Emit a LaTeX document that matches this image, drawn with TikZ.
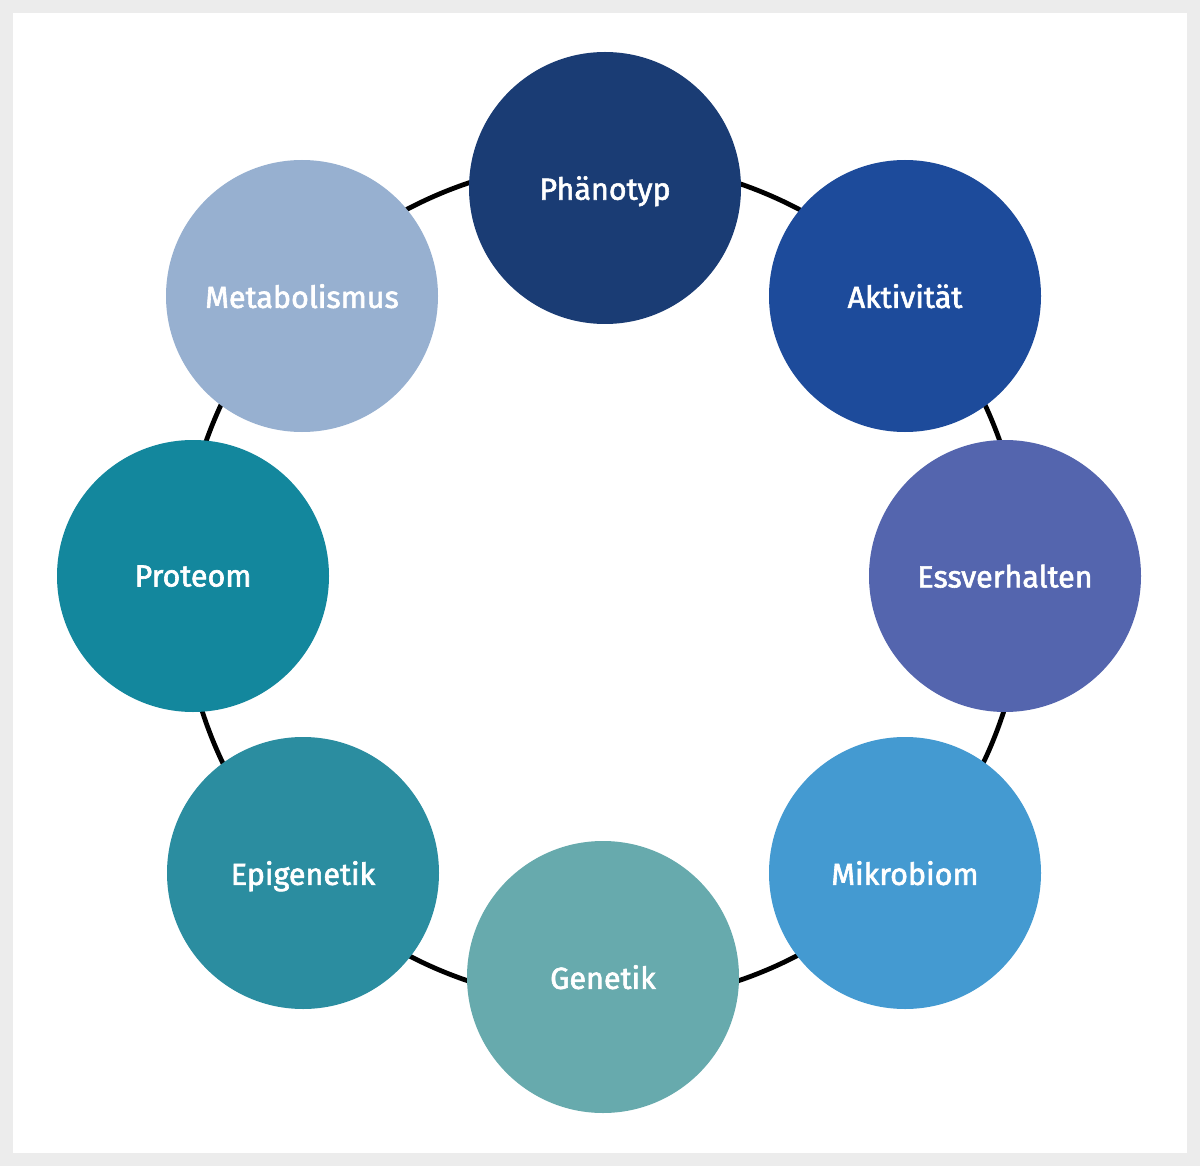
\documentclass[tikz,border=0pt]{standalone}
\usepackage{fontspec}
\setmainfont{Fira Sans}
\newfontfamily\labelfont[FakeBold=2]{Fira Sans}
\definecolor{frame}{HTML}{ECECEC}
\definecolor{cPheno}{HTML}{1A3C74}
\definecolor{cAkt}{HTML}{1D4B9B}
\definecolor{cEss}{HTML}{5465AE}
\definecolor{cMikro}{HTML}{449AD1}
\definecolor{cGen}{HTML}{67AAAD}
\definecolor{cEpi}{HTML}{2B8DA0}
\definecolor{cProt}{HTML}{13879D}
\definecolor{cMeta}{HTML}{97B0D0}
\tikzset{
  blob/.style={circle, minimum size=272pt, inner sep=0pt, text=white,
    font=\labelfont\fontsize{30.5}{35}\selectfont, text depth=0pt},
  ring/.style={line width=4.8pt, black}
}
\begin{document}
\begin{tikzpicture}[x=1pt,y=-1pt]
\fill[frame] (0,0) rectangle (1200,1166);
\fill[white] (13,13) rectangle (1187,1153);
\useasboundingbox (0,0) rectangle (1200,1166);
\coordinate (c) at (603,582);
\draw[ring] (c) circle (421pt);
\node[blob, fill=cPheno] (pheno) at (605,188) {Phänotyp};
\node[blob, fill=cAkt] (akt) at (905,296) {Aktivität};
\node[blob, fill=cEss] (ess) at (1005,576) {Essverhalten};
\node[blob, fill=cMikro] (mikro) at (905,873) {Mikrobiom};
\node[blob, fill=cGen] (gen) at (603,977) {Genetik};
\node[blob, fill=cEpi] (epi) at (303,873) {Epigenetik};
\node[blob, fill=cProt] (prot) at (193,576) {Proteom};
\node[blob, fill=cMeta] (meta) at (302,296) {Metabolismus};
\end{tikzpicture}
\end{document}
